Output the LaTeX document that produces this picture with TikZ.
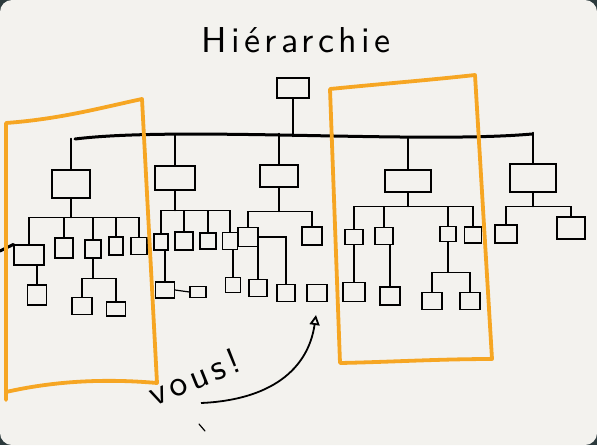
\documentclass[tikz,border=0pt]{standalone}
\usepackage{fontspec}
\usepackage{tikz}
\usetikzlibrary{arrows.meta,calc,positioning}
\newfontfamily\handfont[LetterSpace=12]{lmsans10-regular.otf}
\definecolor{sketchbg}{RGB}{243,242,238}
\definecolor{sketchedge}{RGB}{44,58,60}
\definecolor{pptorange}{RGB}{246,166,35}

\begin{document}
\begin{tikzpicture}[x=1pt,y=-1pt,>=Stealth,
  box/.style 2 args={draw,line width=1.2pt,inner sep=0pt,minimum width=#1,minimum height=#2},
  link/.style={line width=1.2pt,line cap=round},
  bus/.style={line width=3pt,line cap=round},
  frame/.style={pptorange,line width=3.8pt,line cap=round,line join=round},
  hand/.style={font=\handfont\fontsize{36}{40}\selectfont}]
  \useasboundingbox (0,0) rectangle (597,445);
  \fill[sketchedge] (0,0) rectangle (597,445);
  \fill[sketchbg,rounded corners=12pt] (0,0) rectangle (597,445);

  \node[hand] (title) at (296,40) {Hiérarchie};
  \node[box={32}{20}] (root) at (293,88) {};
  \coordinate (busL) at (75,139);
  \coordinate (busR) at (532,134);
  \draw[bus] (busL) .. controls (180,126) and (420,144) .. (busR);
  \draw[link] (root.south) -- ++(0,38);

  % first level
  \node[box={38}{28}] (A) at (71,184) {};
  \node[box={40}{24}] (B) at (175,178) {};
  \node[box={38}{22}] (C) at (279,176) {};
  \node[box={46}{22}] (D) at (408,181) {};
  \node[box={46}{28}] (E) at (533,178) {};
  \foreach \n in {A,B,C,D,E}
    \draw[link] (\n.north) -- ++(0,-31);

  % under A
  \node[box={30}{20}] (a1) at (29,255) {};
  \node[box={18}{20}] (a2) at (64,248) {};
  \node[box={16}{18}] (a3) at (93,249) {};
  \node[box={14}{18}] (a4) at (116,246) {};
  \node[box={16}{17}] (a5) at (139,246) {};
  \draw[link] (A.south) -- ++(0,19) coordinate (Aj);
  \foreach \c in {a1,a2,a3,a4,a5}
    \draw[link] (Aj) -| (\c.north);
  \coordinate (edgeL) at (0,251);
  \draw[bus] (edgeL) -- (a1.north west);
  \node[box={19}{20}] (a11) at (37,295) {};
  \draw[link] (a11.north) -- (a11.north |- a1.south);
  \node[box={20}{17}] (a31) at (82,306) {};
  \node[box={19}{14}] (a32) at (116,309) {};
  \draw[link] (a3.south) -- ++(0,20) coordinate (a3j);
  \foreach \c in {a31,a32}
    \draw[link] (a3j) -| (\c.north);

  % under B
  \node[box={14}{16}] (b1) at (161,242) {};
  \node[box={18}{18}] (b2) at (184,241) {};
  \node[box={16}{16}] (b3) at (208,241) {};
  \node[box={15}{17}] (b4) at (230,241) {};
  \draw[link] (B.south) -- ++(0,20) coordinate (Bj);
  \foreach \c in {b1,b2,b3,b4}
    \draw[link] (Bj) -| (\c.north);
  \node[box={19}{16}] (b11) at (165,290) {};
  \node[box={16}{11}] (b12) at (198,292) {};
  \node[box={15}{15}] (b41) at (233,285) {};
  \draw[link] (b11.north) -- (b11.north |- b1.south);
  \draw[link] (b11.east) -- (b12.west);
  \draw[link] (b41.north) -- (b41.north |- b4.south);

  % under C
  \node[box={20}{19}] (c1) at (248,237) {};
  \node[box={20}{18}] (c2) at (312,236) {};
  \draw[link] (C.south) -- ++(0,24) coordinate (Cj);
  \foreach \c in {c1,c2}
    \draw[link] (Cj) -| (\c.north);
  \node[box={18}{17}] (c11) at (258,288) {};
  \node[box={18}{17}] (c12) at (286,293) {};
  \draw[link] (c11.north) -- (c11.north |- c1.south);
  \draw[link] (c1.east) -| (c12.north);
  \node[box={20}{17}] (you) at (317,293) {};

  % under D
  \node[box={18}{15}] (d1) at (354,237) {};
  \node[box={18}{17}] (d2) at (384,236) {};
  \node[box={16}{15}] (d3) at (448,234) {};
  \node[box={17}{16}] (d4) at (473,235) {};
  \draw[link] (D.south) -- ++(0,14) coordinate (Dj);
  \foreach \c in {d1,d2,d3,d4}
    \draw[link] (Dj) -| (\c.north);
  \node[box={22}{19}] (d11) at (354,292) {};
  \node[box={20}{18}] (d21) at (390,296) {};
  \draw[link] (d11.north) -- (d11.north |- d1.south);
  \draw[link] (d21.north) -- (d21.north |- d2.south);
  \node[box={20}{17}] (d31) at (432,301) {};
  \node[box={20}{17}] (d32) at (470,301) {};
  \draw[link] (d3.south) -- ++(0,30) coordinate (d3j);
  \foreach \c in {d31,d32}
    \draw[link] (d3j) -| (\c.north);

  % under E
  \node[box={22}{18}] (e1) at (506,234) {};
  \node[box={28}{22}] (e2) at (571,228) {};
  \draw[link] (E.south) -- ++(0,14) coordinate (Ej);
  \foreach \c in {e1,e2}
    \draw[link] (Ej) -| (\c.north);

  % the two frames
  \draw[frame] (6,400) -- (6,123) .. controls (60,119) and (100,108) .. (142,99)
    -- (157,383) .. controls (100,378) and (50,382) .. (6,392);
  \draw[frame] (330,89) .. controls (380,84) and (430,80) .. (475,75)
    -- (492,359) .. controls (440,359) and (390,362) .. (340,363) -- cycle;

  % vous!
  \node[hand,rotate=22] (vous) at (194,377) {vous!};
  \coordinate (tail) at (201,403);
  \coordinate (tip) at (316,315);
  \draw[line width=1.8pt,-{Triangle[open,length=10pt,width=10pt]}]
    (tail) .. controls (270,400) and (308,370) .. (tip);
  \draw[link] (199,424) -- (205,431);
\end{tikzpicture}
\end{document}
